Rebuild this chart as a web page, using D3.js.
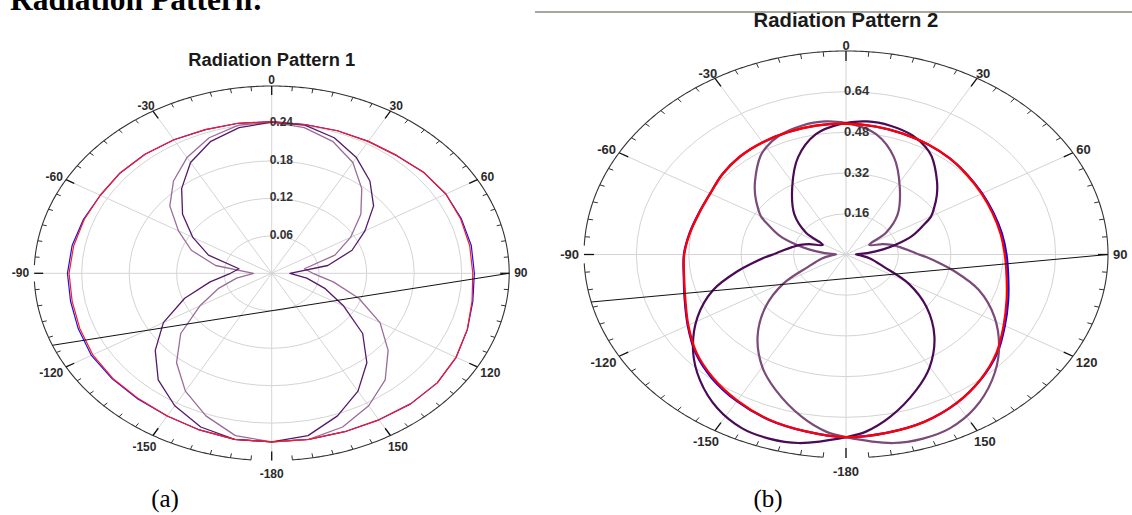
<!DOCTYPE html>
<html><head><meta charset="utf-8">
<script src="https://cdn.jsdelivr.net/npm/d3@7"></script>
<style>body{margin:0;background:#fff}svg{display:block}</style>
</head><body>
<svg id="chart" width="1132" height="515"></svg>
<script>
// ---------- DATA ----------
const angleTickValues = [0, 30, 60, 90, 120, 150, 180, 210, 240, 270, 300, 330];
const angleTickLabels = ["0", "30", "60", "90", "120", "150", "-180", "-150", "-120", "-90", "-60", "-30"];

const ringValues1 = [0.06, 0.12, 0.18, 0.24];
const ringLabels1 = ["0.06", "0.12", "0.18", "0.24"];
const ringValues2 = [0.16, 0.32, 0.48, 0.64];
const ringLabels2 = ["0.16", "0.32", "0.48", "0.64"];
const rMax1 = 0.30;
const rMax2 = 0.80;

const patternAngles = [0,10,20,30,40,50,60,70,80,90,100,110,120,130,140,150,160,170,180,190,200,210,220,230,240,250,260,270,280,290,300,310,320,330,340,350];

// Radiation Pattern 1
const red1   = [0.243,0.242,0.243,0.244,0.246,0.251,0.254,0.254,0.254,0.254,0.257,0.263,0.269,0.273,0.273,0.271,0.270,0.270,0.270,0.270,0.267,0.264,0.262,0.262,0.261,0.258,0.256,0.256,0.254,0.252,0.250,0.250,0.249,0.247,0.245,0.244];
const blue1  = [0.243,0.242,0.243,0.244,0.246,0.251,0.254,0.255,0.256,0.256,0.258,0.263,0.269,0.273,0.273,0.271,0.270,0.270,0.270,0.270,0.267,0.264,0.263,0.263,0.263,0.260,0.258,0.258,0.256,0.253,0.250,0.250,0.249,0.247,0.245,0.244];
const dark1  = [0.242,0.241,0.231,0.214,0.193,0.168,0.136,0.108,0.072,0.023,0.045,0.072,0.105,0.150,0.187,0.218,0.243,0.264,0.270,0.270,0.262,0.245,0.223,0.192,0.158,0.117,0.079,0.052,0.042,0.085,0.115,0.147,0.177,0.205,0.225,0.237];
const light1 = [0.242,0.237,0.225,0.205,0.177,0.147,0.115,0.085,0.042,0.052,0.079,0.117,0.158,0.192,0.223,0.245,0.262,0.270,0.270,0.264,0.243,0.218,0.187,0.150,0.105,0.072,0.045,0.023,0.072,0.108,0.136,0.168,0.193,0.214,0.231,0.241];
const chord1 = [90, -112.6];

// Radiation Pattern 2
const red2   = [0.514,0.511,0.506,0.500,0.493,0.484,0.478,0.476,0.479,0.485,0.498,0.522,0.556,0.600,0.640,0.675,0.700,0.712,0.718,0.706,0.690,0.663,0.632,0.597,0.556,0.522,0.502,0.494,0.484,0.477,0.479,0.492,0.503,0.509,0.513,0.515];
const blue2  = [0.514,0.511,0.506,0.500,0.493,0.485,0.480,0.479,0.483,0.490,0.503,0.527,0.560,0.603,0.641,0.675,0.700,0.712,0.718,0.706,0.691,0.666,0.636,0.600,0.558,0.524,0.503,0.495,0.485,0.478,0.479,0.492,0.503,0.509,0.513,0.515];
const dark2Angles = [-62,-55,-45,-32,-21,-11,-2,7,15,23.5,30,34,44,50,56,60,64,70,75.6,80,85,89,95,102,113,121,130,140,150,158,168,175,180,191,198,205,213,222,231,241.5,251,259,263,267.5,271,275,280,285,290];
const dark2  = [0.080,0.149,0.223,0.310,0.409,0.482,0.513,0.527,0.524,0.510,0.487,0.467,0.400,0.362,0.324,0.300,0.263,0.215,0.158,0.115,0.065,0.030,0.045,0.075,0.127,0.224,0.321,0.420,0.511,0.574,0.652,0.699,0.718,0.755,0.761,0.753,0.721,0.666,0.601,0.516,0.429,0.335,0.290,0.247,0.215,0.192,0.167,0.145,0.120];
const light2Angles = [62,55,45,32,21,11,2,-7,-15,-23.5,-30,-34,-44,-50,-56,-60,-64,-70,-75.6,-80,-85,-89,-95,-102,-113,-121,-130,-140,-150,-158,-168,-175,-180,-191,-198,-205,-213,-222,-231,-241.5,-251,-259,-263,-267.5,-271,-275,-280,-285,-290];
const light2 = [0.080,0.149,0.223,0.310,0.409,0.482,0.513,0.527,0.524,0.510,0.487,0.467,0.400,0.362,0.324,0.300,0.263,0.215,0.158,0.115,0.065,0.030,0.045,0.075,0.127,0.224,0.321,0.420,0.511,0.574,0.652,0.699,0.718,0.755,0.761,0.753,0.721,0.666,0.601,0.516,0.429,0.335,0.290,0.247,0.215,0.192,0.167,0.145,0.120];
const chord2 = [90, -103.5];

// ---------- DRAW ----------
const W = 1132, H = 515;
const svg = d3.select("#chart");
svg.append("rect").attr("width", W).attr("height", H).attr("fill", "#fff");

const FONT = "'Liberation Sans', Arial, sans-serif";
const rad = d => d * Math.PI / 180;

function fitText(t, target) {
  const fs = +t.attr("font-size");
  const w = t.node().getComputedTextLength();
  t.attr("font-size", fs * target / w);
}

function drawPolar(cfg) {
  const g = svg.append("g");
  const rs = d3.scaleLinear().domain([0, cfg.rMax]).range([0, 1]);
  const px = (a, v) => cfg.cx + cfg.rx * rs(v) * Math.sin(rad(a));
  const py = (a, v) => cfg.cy - cfg.ry * rs(v) * Math.cos(rad(a));

  g.selectAll("ellipse.ring").data(cfg.rings).join("ellipse")
    .attr("class", "ring")
    .attr("cx", cfg.cx).attr("cy", cfg.cy)
    .attr("rx", v => cfg.rx * rs(v)).attr("ry", v => cfg.ry * rs(v))
    .attr("fill", "none").attr("stroke", "#d4d4d4").attr("stroke-width", 1);

  g.selectAll("line.spoke").data(angleTickValues).join("line")
    .attr("class", "spoke")
    .attr("x1", cfg.cx).attr("y1", cfg.cy)
    .attr("x2", a => px(a, cfg.rMax)).attr("y2", a => py(a, cfg.rMax))
    .attr("stroke", "#d4d4d4").attr("stroke-width", 1);

  const outerLine = d3.line().x(a => px(a, cfg.rMax)).y(a => py(a, cfg.rMax));
  [[185, 267.5], [272.5, 535]].forEach(([a0, a1]) => {
    g.append("path").attr("d", outerLine(d3.range(a0, a1 + 0.01, 0.5))).attr("fill", "none")
      .attr("stroke", "#333").attr("stroke-width", 1.1);
  });

  d3.range(0, 360, 5).forEach(a => {
    const x0 = px(a, cfg.rMax), y0 = py(a, cfg.rMax);
    const dx = cfg.cx - x0, dy = cfg.cy - y0, L = Math.hypot(dx, dy);
    const major = a % 30 === 0;
    const len = major ? cfg.major : cfg.minor;
    g.append("line").attr("x1", x0).attr("y1", y0)
      .attr("x2", x0 + dx / L * len).attr("y2", y0 + dy / L * len)
      .attr("stroke", major ? "#111" : "#333").attr("stroke-width", major ? 1.3 : 1);
  });

  cfg.series.forEach(s => {
    const pts = s.values.map((v, i) => ({a: s.angles[i], v}));
    const line = d3.line().x(d => px(d.a, d.v)).y(d => py(d.a, d.v)).curve(cfg.curve);
    g.append("path").attr("d", line(pts)).attr("fill", "none")
      .attr("stroke", s.color).attr("stroke-width", s.width).attr("stroke-linejoin", "round");
  });

  g.append("line")
    .attr("x1", px(cfg.chord[0], cfg.rMax)).attr("y1", py(cfg.chord[0], cfg.rMax))
    .attr("x2", px(cfg.chord[1], cfg.rMax)).attr("y2", py(cfg.chord[1], cfg.rMax))
    .attr("stroke", "#111").attr("stroke-width", 1);

  cfg.rings.forEach((v, i) => {
    g.append("text").attr("x", cfg.cx - 2).attr("y", py(0, v) - 1)
      .attr("dominant-baseline", "central")
      .attr("font-family", FONT).attr("font-weight", "bold").attr("font-size", cfg.fs)
      .attr("fill", "#333").text(cfg.ringLabels[i]);
  });

  angleTickValues.forEach((a, i) => {
    const t = g.append("text").attr("font-family", FONT).attr("font-weight", "bold")
      .attr("font-size", cfg.fs).attr("fill", "#2a2a2a").attr("text-anchor", "middle")
      .attr("dominant-baseline", "central").text(angleTickLabels[i]);
    const w = t.node().getComputedTextLength();
    const s = Math.sin(rad(a)), c = Math.cos(rad(a));
    t.attr("x", px(a, cfg.rMax) + s * (5 + w / 2))
     .attr("y", py(a, cfg.rMax) - c * (c > 0 ? 6 : 13));
  });

  const tt = g.append("text").attr("x", cfg.cx).attr("y", cfg.titleY)
    .attr("text-anchor", "middle").attr("dominant-baseline", "central")
    .attr("font-family", FONT).attr("font-weight", "bold").attr("font-size", 15).attr("fill", "#1a1a1a")
    .text(cfg.title);
  fitText(tt, cfg.titleW);
}

drawPolar({
  cx: 271.7, cy: 273.3, rx: 237.5, ry: 187.3, rMax: rMax1,
  rings: ringValues1, ringLabels: ringLabels1, fs: 12, major: 9, minor: 4.5,
  curve: d3.curveLinearClosed, chord: chord1,
  title: "Radiation Pattern 1", titleY: 59, titleW: 167,
  series: [
    {angles: patternAngles, values: blue1, color: "#1010ff", width: 1.2},
    {angles: patternAngles, values: light1, color: "#9a6c98", width: 1.3},
    {angles: patternAngles, values: dark1, color: "#55186a", width: 1.3},
    {angles: patternAngles, values: red1, color: "#ff1a1a", width: 1.2}
  ]
});

drawPolar({
  cx: 846, cy: 254.5, rx: 262, ry: 203.5, rMax: rMax2,
  rings: ringValues2, ringLabels: ringLabels2, fs: 13, major: 10, minor: 5,
  curve: d3.curveCatmullRomClosed.alpha(0.5), chord: chord2,
  title: "Radiation Pattern 2", titleY: 20, titleW: 185,
  series: [
    {angles: patternAngles, values: blue2, color: "#0000ff", width: 2.2},
    {angles: light2Angles, values: light2, color: "#7a4a78", width: 2.2},
    {angles: dark2Angles, values: dark2, color: "#4a0a55", width: 2.2},
    {angles: patternAngles, values: red2, color: "#ff0000", width: 2.3}
  ]
});

const head = svg.append("text").attr("x", 10).attr("y", 10)
  .attr("font-family", "'Liberation Serif', 'Times New Roman', serif").attr("font-weight", "bold")
  .attr("font-size", 24).attr("fill", "#000").text("Radiation Pattern:");
fitText(head, 253);

svg.append("line").attr("x1", 535).attr("x2", 1132).attr("y1", 12).attr("y2", 12)
  .attr("stroke", "#8a8a80").attr("stroke-width", 1.5);

[["(a)", 165], ["(b)", 768]].forEach(([t, x]) => {
  svg.append("text").attr("x", x).attr("y", 507).attr("text-anchor", "middle")
    .attr("font-family", "'Liberation Serif', 'Times New Roman', serif")
    .attr("font-size", 25).attr("fill", "#000").text(t);
});
</script>
</body></html>
